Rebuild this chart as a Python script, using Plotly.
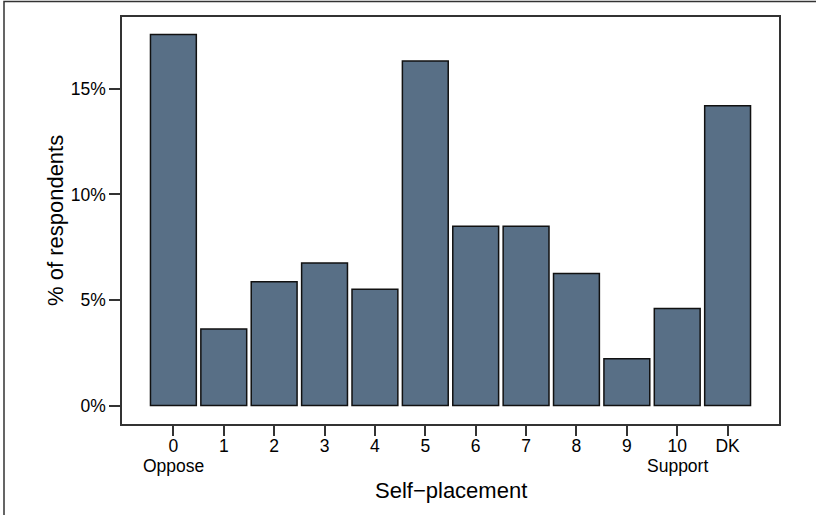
import plotly.graph_objects as go

categories = ["0", "1", "2", "3", "4", "5", "6", "7", "8", "9", "10", "DK"]
values = [17.57, 3.63, 5.86, 6.75, 5.51, 16.32, 8.49, 8.49, 6.25, 2.22, 4.60, 14.20]
y_tickvals = [0, 5, 10, 15]
y_ticktext = ["0%", "5%", "10%", "15%"]

W, H = 816, 515
L, R, T, B = 122, 37, 17, 91
pw, ph = W - L - R, H - T - B

xpos = list(range(len(categories)))

fig = go.Figure(go.Bar(
    x=xpos, y=values, width=0.91,
    marker=dict(color="#586f86", line=dict(color="#111111", width=1.5)),
))

font = "Liberation Sans, Arial, Helvetica, sans-serif"

fig.update_layout(
    width=W, height=H,
    margin=dict(l=L, r=R, t=T, b=B),
    paper_bgcolor="white", plot_bgcolor="white",
    showlegend=False,
    font=dict(family=font, size=17.5, color="black"),
    xaxis=dict(
        range=[-1.02, 12.02], tickvals=xpos, ticktext=categories,
        ticks="outside", ticklen=10, tickwidth=1.5, tickcolor="#333333",
        ticklabelstandoff=-5,
        showline=True, linecolor="#333333", linewidth=1.5, mirror=True,
        showgrid=False, zeroline=False, tickfont=dict(size=17.5),
    ),
    yaxis=dict(
        range=[-0.87, 18.4], tickvals=y_tickvals, ticktext=y_ticktext,
        ticks="outside", ticklen=11, tickwidth=1.5, tickcolor="#333333",
        showline=True, linecolor="#333333", linewidth=1.5, mirror=True,
        showgrid=False, zeroline=False, tickfont=dict(size=17.5),
    ),
)

def px_x(px):
    return (px - L) / pw

def px_y(py):
    return (H - B - py) / ph

annotations = [
    dict(x=0, xref="x", y=px_y(466), yref="paper", text="Oppose", showarrow=False,
         font=dict(size=17.5), xanchor="center", yanchor="middle"),
    dict(x=10, xref="x", y=px_y(466), yref="paper", text="Support", showarrow=False,
         font=dict(size=17.5), xanchor="center", yanchor="middle"),
    dict(x=0.5, xref="paper", y=px_y(490), yref="paper", text="Self\u2212placement", showarrow=False,
         font=dict(size=22), xanchor="center", yanchor="middle"),
    dict(x=px_x(56), xref="paper", y=px_y(221), yref="paper", text="% of respondents", showarrow=False,
         font=dict(size=22), textangle=-90, xanchor="center", yanchor="middle"),
]
fig.update_layout(annotations=annotations)

fig.add_shape(type="rect", xref="paper", yref="paper",
              x0=px_x(4), x1=px_x(830), y0=px_y(530), y1=px_y(1.5),
              line=dict(color="#333333", width=1.5), fillcolor="rgba(0,0,0,0)", layer="below")

fig.write_html("out.html", config={"displayModeBar": False},
               post_script="document.body.style.margin='0';document.body.style.overflow='hidden';")
